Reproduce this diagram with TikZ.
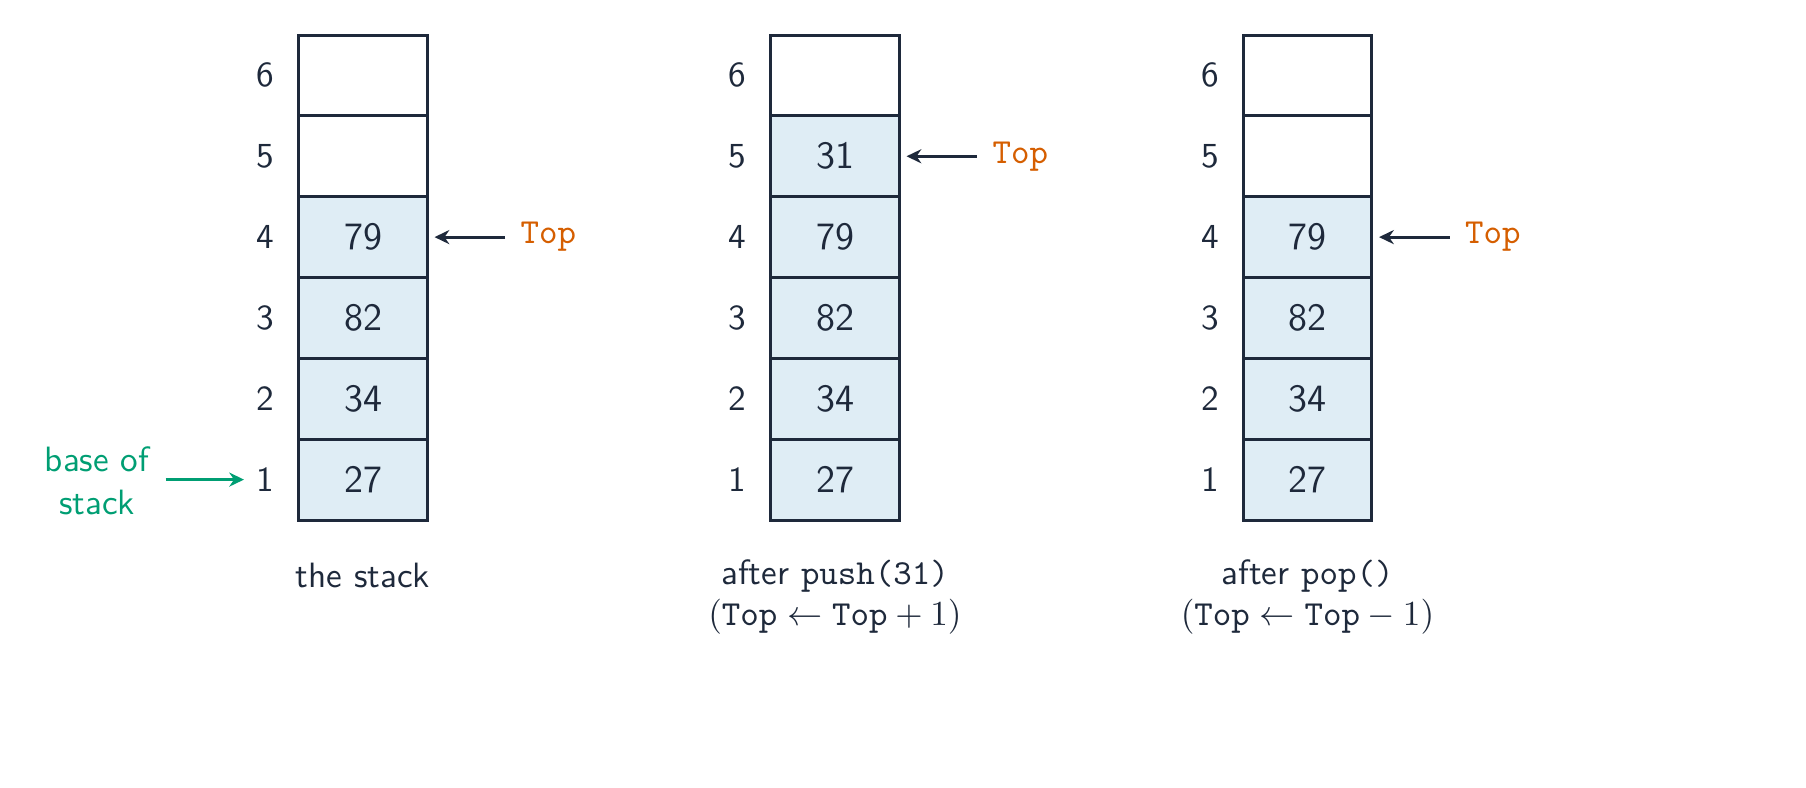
\documentclass[tikz,border=0pt]{standalone}
\usepackage{fontspec}
\renewcommand{\familydefault}{\sfdefault}
\usetikzlibrary{arrows.meta}
\definecolor{ink}{RGB}{30,41,59}
\definecolor{cellfill}{RGB}{223,237,245}
\definecolor{basegreen}{RGB}{0,158,115}
\definecolor{toporange}{RGB}{213,94,0}
\begin{document}
\begin{tikzpicture}[x=0.01cm,y=-0.01cm,
  cell/.style={draw=ink, line width=0.85pt, minimum width=1.28cm, minimum height=0.8083cm,
    inner sep=0pt, text=ink, font=\fontsize{11}{13}\selectfont},
  fullcell/.style={cell, fill=cellfill},
  emptycell/.style={cell, fill=white},
  idx/.style={anchor=east, text=ink, inner sep=0pt, font=\fontsize{10}{12}\selectfont},
  toplbl/.style={anchor=west, text=toporange, inner sep=0.15cm, font=\ttfamily\fontsize{10}{12}\selectfont},
  toparrow/.style={draw=ink, line width=0.85pt, -{Stealth[length=4.2pt,width=4pt]}, shorten >=0.06cm},
  basearrow/.style={draw=basegreen, line width=0.85pt, -{Stealth[length=4.2pt,width=4pt]},
    shorten <=0.04cm, shorten >=0.12cm},
  caption/.style={text=ink, align=center, font=\fontsize{10}{11.5}\selectfont}
]
\useasboundingbox (0,0) rectangle (1806,787);
\foreach \s/\cx/\n in {1/363/4, 2/835/5, 3/1307.5/4}{
  \foreach \k/\v in {1/27,2/34,3/82,4/79,5/31,6/}{
    \pgfmathsetmacro{\cy}{520-(\k-0.5)*80.83}
    \ifnum\k>\n
      \node[emptycell] (s\s c\k) at (\cx,\cy) {};
    \else
      \node[fullcell] (s\s c\k) at (\cx,\cy) {\v};
    \fi
    \node[idx] (s\s i\k) at (\cx-88,\cy) {\k};
  }
  \pgfmathsetmacro{\ty}{520-(\n-0.5)*80.83}
  \node[toplbl] (T\s) at (\cx+142,\ty) {Top};
  \draw[toparrow] (T\s.west) -- (s\s c\n.east);
}
\node[text=basegreen, align=center, font=\fontsize{10}{12.2}\selectfont] (base) at (97,481) {base of\\stack};
\draw[basearrow] (s1i1.west -| base.east) -- (s1i1.west);
\node[caption] (cap1) at (363,575) {the stack};
\node[caption] (cap2) at (835,597) {after \texttt{push(31)}\\$(\texttt{Top}\leftarrow\texttt{Top}+1)$};
\node[caption] (cap3) at (1307.5,597) {after \texttt{pop()}\\$(\texttt{Top}\leftarrow\texttt{Top}-1)$};
\end{tikzpicture}
\end{document}
